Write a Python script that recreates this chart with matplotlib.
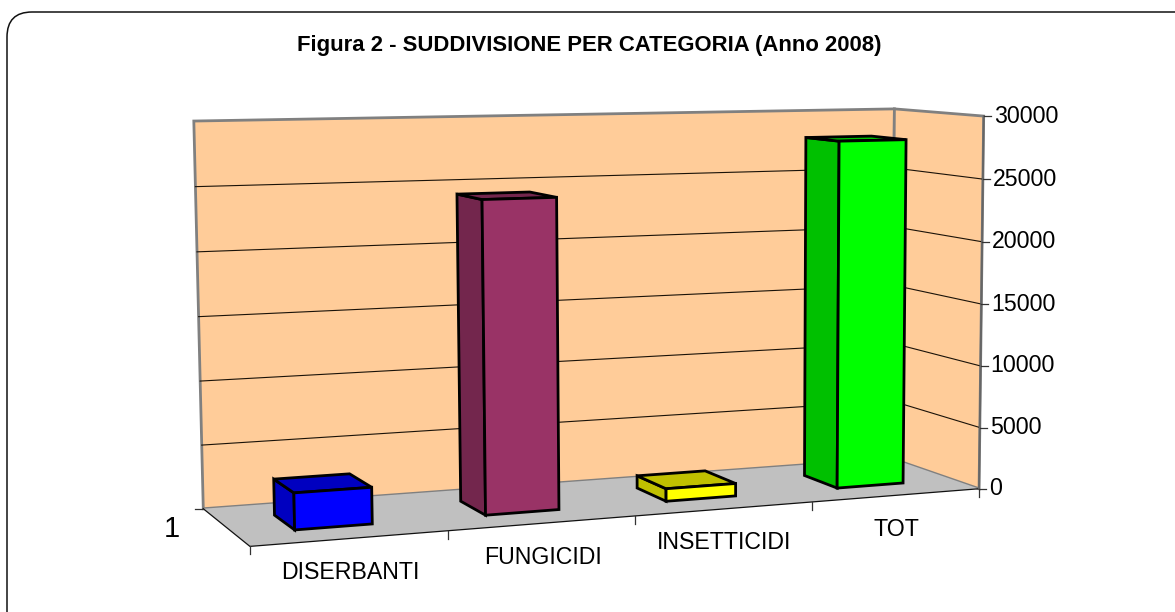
import numpy as np
import matplotlib
matplotlib.use('Agg')
import matplotlib.pyplot as plt
from matplotlib.patches import Polygon, FancyBboxPatch

plt.rcParams['font.family'] = ['Liberation Sans', 'DejaVu Sans']

title = 'Figura 2 - SUDDIVISIONE PER CATEGORIA (Anno 2008)'
categories = ['DISERBANTI', 'FUNGICIDI', 'INSETTICIDI', 'TOT']
values = [2800, 24200, 1000, 28000]
value_ticks = [0, 5000, 10000, 15000, 20000, 25000, 30000]
series_label = '1'

front_colors = ['#0000FF', '#993366', '#FFFF00', '#00FF00']
side_colors = ['#0000C0', '#73264D', '#C0C000', '#00C000']

vmax = 30000.0

#the camera: category pos, value/vmax, depth (0 front, 1 back) -> pixels
world = [(0,0,1), (4,0,1), (0,0,0), (4,0,0), (0,1,1), (4,1,1), (4,1,0),
         (1,0,0), (2,0,0), (3,0,0)]
pixels = [(203,508), (893,459), (250,547), (978,488), (194,121), (893,109), (985,116),
          (448,531), (635,516), (811,502)]

rows = []
rhs = []
for (a, b, c), (u, v) in zip(world, pixels):
    rows.append([a, b, c, 1, 0, 0, 0, 0, -u*a, -u*b, -u*c])
    rhs.append(u)
    rows.append([0, 0, 0, 0, a, b, c, 1, -v*a, -v*b, -v*c])
    rhs.append(v)
cam = np.linalg.lstsq(np.array(rows, float), np.array(rhs, float), rcond=None)[0]
cam = np.append(cam, 1.0).reshape(3, 4)


def project(x, value, z):
    p = cam @ np.array([x, value/vmax, z, 1.0])
    return (p[0]/p[2], p[1]/p[2])


fig = plt.figure(figsize=(11.75, 6.12), dpi=100, facecolor='w')
ax = fig.add_axes([0, 0, 1, 1])
ax.set_xlim(0, 1175)
ax.set_ylim(612, 0)
ax.axis('off')

#outer frame, runs off the right and bottom of the picture
ax.add_patch(FancyBboxPatch((7, 12), 1300, 700, boxstyle='round,pad=0,rounding_size=25',
                            fc='w', ec='#111111', lw=1.1))

ax.text(589, 45, title, ha='center', va='center', fontsize=15.9, fontweight='bold')

n = len(categories)
wall_edge = '#808080'

#walls and floor
ax.add_patch(Polygon([project(0, 0, 1), project(n, 0, 1), project(n, vmax, 1), project(0, vmax, 1)],
                     fc='#FFCC99', ec=wall_edge, lw=2, joinstyle='miter'))
ax.add_patch(Polygon([project(n, 0, 1), project(n, 0, 0), project(n, vmax, 0), project(n, vmax, 1)],
                     fc='#FFCC99', ec=wall_edge, lw=2, joinstyle='miter'))
ax.add_patch(Polygon([project(0, 0, 1), project(n, 0, 1), project(n, 0, 0), project(0, 0, 0)],
                     fc='#C0C0C0', ec='none'))

#gridlines over back and side walls
for t in value_ticks[1:-1]:
    pts = [project(0, t, 1), project(n, t, 1), project(n, t, 0)]
    ax.plot([p[0] for p in pts], [p[1] for p in pts], color='#1a1208', lw=0.8, zorder=1.5)

#axis lines
pts = [project(0, 0, 1), project(0, 0, 0), project(n, 0, 0)]
ax.plot([p[0] for p in pts], [p[1] for p in pts], color='#111111', lw=0.9, zorder=1.5)
p0 = project(n, 0, 0)
p1 = project(n, vmax, 0)
ax.plot([p0[0], p1[0]], [p0[1], p1[1]], color='#666666', lw=1.4, zorder=1.5)

#ticks and labels
for t in value_ticks:
    p = project(n, t, 0)
    ax.plot([p[0], p[0]+7], [p[1], p[1]], color='#333333', lw=0.9)
    ax.text(p[0]+10, p[1], str(t), ha='left', va='center', fontsize=16.7)
for i in range(n+1):
    p = project(i, 0, 0)
    ax.plot([p[0], p[0]], [p[1], p[1]+8], color='#333333', lw=0.9)
p = project(0, 0, 1)
ax.plot([p[0]-8, p[0]], [p[1], p[1]], color='#333333', lw=0.9)

for i, name in enumerate(categories):
    p = project(i+0.5, 0, 0)
    ax.text(p[0], p[1]+34, name, ha='center', va='center', fontsize=16.7)
ax.text(172, 529, series_label, ha='center', va='center', fontsize=21)

#bars, gap width 150% both ways
for i, val in enumerate(values):
    x0 = i+0.3
    x1 = i+0.7
    z0 = 0.3
    z1 = 0.7
    side = [project(x0, 0, z0), project(x0, val, z0), project(x0, val, z1), project(x0, 0, z1)]
    top = [project(x0, val, z0), project(x1, val, z0), project(x1, val, z1), project(x0, val, z1)]
    front = [project(x0, 0, z0), project(x1, 0, z0), project(x1, val, z0), project(x0, val, z0)]
    ax.add_patch(Polygon(side, fc=side_colors[i], ec='k', lw=2, joinstyle='miter', zorder=3))
    ax.add_patch(Polygon(top, fc=side_colors[i], ec='k', lw=2, joinstyle='miter', zorder=3))
    ax.add_patch(Polygon(front, fc=front_colors[i], ec='k', lw=2, joinstyle='miter', zorder=3))

plt.savefig('out.png', dpi=100)
